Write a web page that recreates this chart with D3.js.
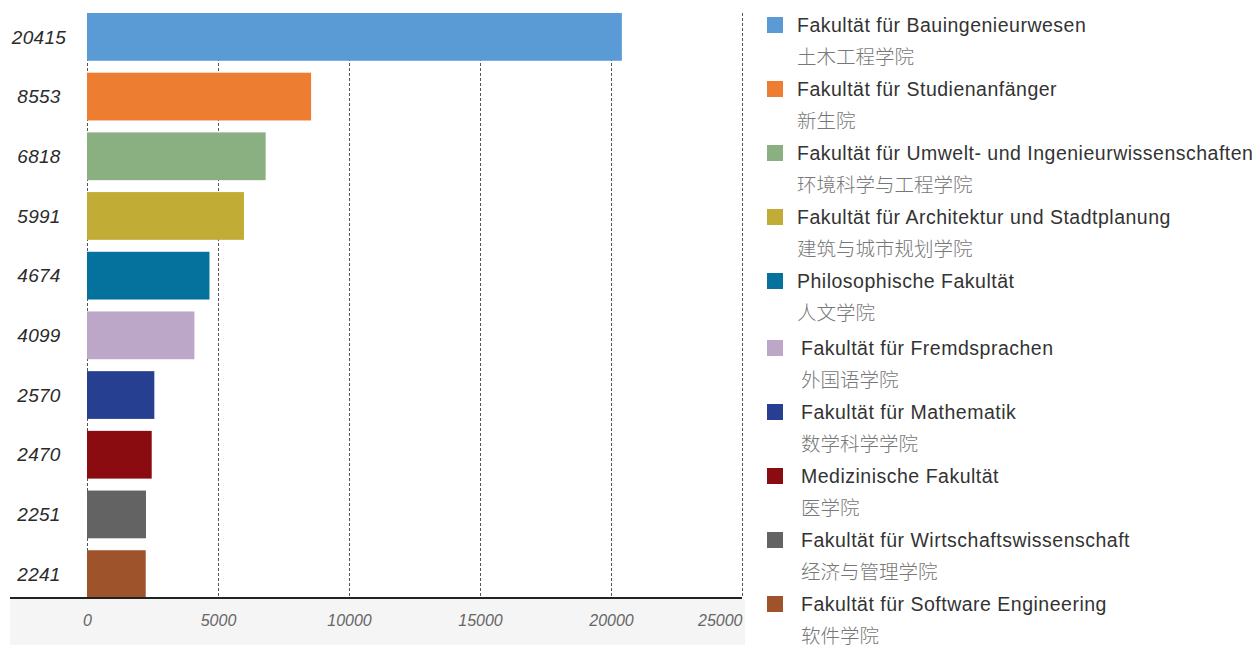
<!DOCTYPE html>
<html>
<head>
<meta charset="utf-8">
<script src="https://cdn.jsdelivr.net/npm/d3@7"></script>
<style>
  html, body { margin: 0; padding: 0; background: #fff; }
  svg { display: block; }
</style>
</head>
<body>
<svg id="chart" width="1258" height="645"></svg>
<script>
// Student numbers per faculty
const facultiesDe = [
  "Fakultät für Bauingenieurwesen",
  "Fakultät für Studienanfänger",
  "Fakultät für Umwelt- und Ingenieurwissenschaften",
  "Fakultät für Architektur und Stadtplanung",
  "Philosophische Fakultät",
  "Fakultät für Fremdsprachen",
  "Fakultät für Mathematik",
  "Medizinische Fakultät",
  "Fakultät für Wirtschaftswissenschaft",
  "Fakultät für Software Engineering"
];
const facultiesZh = [
  "土木工程学院",
  "新生院",
  "环境科学与工程学院",
  "建筑与城市规划学院",
  "人文学院",
  "外国语学院",
  "数学科学学院",
  "医学院",
  "经济与管理学院",
  "软件学院"
];
const students = [20415, 8553, 6818, 5991, 4674, 4099, 2570, 2470, 2251, 2241];
const barColors = [
  "#5b9bd5", "#ed7d31", "#8aaf80", "#c1ad35", "#04729d",
  "#bca7c8", "#263f91", "#8b0c10", "#636363", "#9e532a"
];
const xTicks = [0, 5000, 10000, 15000, 20000, 25000];

const svg = d3.select("#chart");
const latin = "'Liberation Sans', Arial, Helvetica, sans-serif";
const cjk = "'Noto Sans CJK SC', sans-serif";

const x = d3.scaleLinear().domain([0, 25000]).range([87, 742]);
const y = d3.scaleBand().domain(d3.range(students.length)).range([13, 598])
  .paddingInner(0.2).paddingOuter(0);

// Shaded strip under the axis
svg.append("rect")
  .attr("x", 10).attr("y", 599).attr("width", 735).attr("height", 46)
  .attr("fill", "#f5f5f5");

// Dashed vertical grid
svg.append("g").selectAll("line").data(xTicks).join("line")
  .attr("x1", d => Math.round(x(d)) + 0.5).attr("x2", d => Math.round(x(d)) + 0.5)
  .attr("y1", 13).attr("y2", 598)
  .attr("stroke", "#555").attr("stroke-width", 1)
  .attr("stroke-dasharray", "3,2");

// Bars
svg.append("g").selectAll("rect").data(students).join("rect")
  .attr("x", x(0))
  .attr("y", (d, i) => y(i))
  .attr("width", d => x(d) - x(0))
  .attr("height", y.bandwidth())
  .attr("fill", (d, i) => barColors[i]);

// Value labels on the left
svg.append("g").selectAll("text").data(students).join("text")
  .attr("x", 39)
  .attr("y", (d, i) => y(i) + y.bandwidth() / 2)
  .attr("dy", "0.35em")
  .attr("text-anchor", "middle")
  .attr("font-family", latin)
  .attr("font-style", "italic")
  .attr("font-size", 19)
  .attr("letter-spacing", "0.3px")
  .attr("fill", "#2b2b2b")
  .text(d => d);

// Baseline
svg.append("line")
  .attr("x1", 10).attr("x2", 742).attr("y1", 598).attr("y2", 598)
  .attr("stroke", "#222").attr("stroke-width", 2);

// X axis tick labels
const xAxis = d3.axisBottom(x).tickValues(xTicks).tickSize(0).tickPadding(0)
  .tickFormat(d3.format("d"));
const gx = svg.append("g").attr("transform", "translate(0,615)").call(xAxis);
gx.select(".domain").remove();
gx.selectAll("text")
  .attr("font-family", latin)
  .attr("font-style", "italic")
  .attr("font-size", 16)
  .attr("fill", "#666")
  .attr("text-anchor", d => d === 25000 ? "end" : "middle");

// Legend
const legend = svg.append("g").selectAll("g").data(facultiesDe).join("g")
  .attr("transform", (d, i) => `translate(${i < 5 ? 0 : 4},${25 + i * 64 + (i < 5 ? 0 : 3)})`);
legend.append("rect")
  .attr("x", (d, i) => 767 - (i < 5 ? 0 : 4)).attr("y", -8)
  .attr("width", 16).attr("height", 16)
  .attr("fill", (d, i) => barColors[i]);
legend.append("text")
  .attr("x", 797).attr("y", 0).attr("dy", "0.35em")
  .attr("font-family", latin).attr("font-size", 19.5)
  .attr("letter-spacing", "0.5px")
  .attr("fill", "#333")
  .text(d => d);
legend.append("text")
  .attr("x", 797).attr("y", 32).attr("dy", "0.35em")
  .attr("font-family", cjk).attr("font-size", 19.5).attr("font-weight", 300)
  .attr("fill", "#777")
  .text((d, i) => facultiesZh[i]);
</script>
</body>
</html>
